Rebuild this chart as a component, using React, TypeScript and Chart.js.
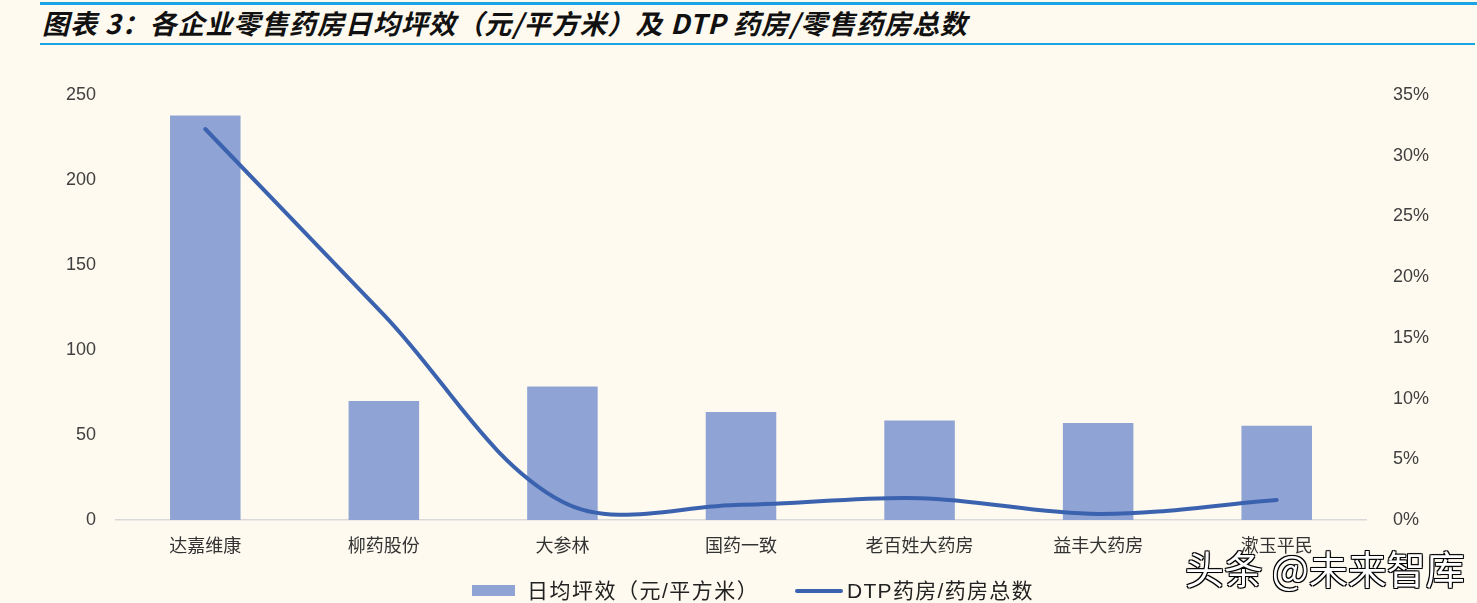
import React, { useEffect, useRef } from 'react';
import { Chart, registerables } from 'chart.js';

Chart.register(...registerables);

const categories = ['达嘉维康', '柳药股份', '大参林', '国药一致', '老百姓大药房', '益丰大药房', '漱玉平民'];
const dailySalesPerSqm = [238, 70, 78.5, 63.5, 58.5, 57, 55.5];
const dtpShare = [32.2, 16.9, 1.5, 1.25, 1.8, 0.5, 1.65];
const barLabel = '日均坪效（元/平方米）';
const lineLabel = 'DTP药房/药房总数';
const titleText = '图表 3：各企业零售药房日均坪效（元/平方米）及 DTP 药房/零售药房总数';
const watermarkText = '头条 @未来智库';

const BG = '#fefaef';
const BAR = '#8fa4d4';
const LINE = '#3a62ae';
const CJK = '"Noto Sans CJK SC", "Liberation Sans", sans-serif';
const LATIN_CJK = '"Liberation Sans", "Noto Sans CJK SC", sans-serif';

export default function App() {
  const ref = useRef<HTMLCanvasElement>(null);

  useEffect(() => {
    document.body.style.margin = '0';
    document.body.style.background = BG;
    document.body.style.overflow = 'hidden';
    const chart = new Chart(ref.current!, {
      type: 'bar',
      data: {
        labels: categories,
        datasets: [
          {
            type: 'line',
            label: lineLabel,
            data: dtpShare,
            yAxisID: 'y1',
            borderColor: LINE,
            backgroundColor: LINE,
            borderWidth: 4,
            tension: 0.35,
            capBezierPoints: false,
            pointRadius: 0,
            pointHoverRadius: 0,
            borderCapStyle: 'round',
            order: 0,
          } as any,
          {
            type: 'bar',
            label: barLabel,
            data: dailySalesPerSqm,
            yAxisID: 'y',
            backgroundColor: BAR,
            borderWidth: 0,
            categoryPercentage: 1,
            barPercentage: 0.395,
            order: 1,
          },
        ],
      },
      options: {
        responsive: false,
        animation: false,
        layout: { padding: { top: 95, left: 30, right: 0, bottom: 23 } },
        plugins: {
          tooltip: { enabled: false },
          legend: { display: false },
        },
        scales: {
          x: {
            grid: { display: false, drawTicks: false },
            border: { display: true, color: '#d9d9d9', width: 1.5 },
            ticks: { color: '#333', padding: 14, font: { family: CJK, size: 18 }, maxRotation: 0 },
            afterFit: (s: any) => { s.height = 60; },
          },
          y: {
            position: 'left',
            min: 0,
            max: 250,
            grid: { display: false, drawTicks: false },
            border: { display: false },
            ticks: { stepSize: 50, padding: 20, color: '#404040', font: { family: '"Liberation Sans", Arial, sans-serif', size: 18 } },
            afterFit: (s: any) => { s.width = 86; },
          },
          y1: {
            position: 'right',
            min: 0,
            max: 35,
            grid: { display: false, drawTicks: false },
            border: { display: false },
            ticks: {
              stepSize: 5,
              padding: 27,
              color: '#404040',
              font: { family: '"Liberation Sans", Arial, sans-serif', size: 18 },
              callback: (v: any) => `${v}%`,
            },
            afterFit: (s: any) => { s.width = 111; },
          },
        },
      },
    });
    return () => chart.destroy();
  }, []);

  const legendText: React.CSSProperties = {
    position: 'absolute',
    top: 577,
    height: 28,
    lineHeight: '28px',
    fontFamily: LATIN_CJK,
    fontSize: 21,
    color: '#222',
    whiteSpace: 'nowrap',
  };

  return (
    <div style={{ position: 'relative', width: 1477, height: 603, background: BG, overflow: 'hidden' }}>
      <div style={{ position: 'absolute', left: 40, right: 0, top: 2, height: 3, background: '#1aa3e6' }} />
      <div
        style={{
          position: 'absolute',
          left: 42,
          top: 4,
          height: 38,
          lineHeight: '38px',
          fontFamily: CJK,
          fontWeight: 700,
          fontStyle: 'italic',
          fontSize: 27,
          letterSpacing: '0.9px',
          color: '#111',
          whiteSpace: 'nowrap',
        }}
      >
        {titleText}
      </div>
      <div style={{ position: 'absolute', left: 40, width: 1435, top: 43, height: 2, background: '#1aa3e6' }} />
      <canvas ref={ref} width={1477} height={603} style={{ position: 'absolute', left: 0, top: 0, width: 1477, height: 603 }} />
      <div style={{ position: 'absolute', left: 472, top: 585, width: 43, height: 11, background: BAR }} />
      <div style={{ ...legendText, left: 527, letterSpacing: '1.5px' }}>{barLabel}</div>
      <div style={{ position: 'absolute', left: 795, top: 588.5, width: 48, height: 4.5, borderRadius: 3, background: LINE }} />
      <div style={{ ...legendText, left: 847, letterSpacing: '1.3px' }}>{lineLabel}</div>
      <div
        style={{
          position: 'absolute',
          left: 1185,
          top: 546,
          fontFamily: CJK,
          fontSize: 39,
          lineHeight: '42px',
          color: '#fff',
          whiteSpace: 'nowrap',
          textShadow: '-1px -1px 0 #000, 1px -1px 0 #000, -1px 1px 0 #000, 1px 1px 0 #000, 0 0 2px #000',
        }}
      >
        {watermarkText}
      </div>
    </div>
  );
}
